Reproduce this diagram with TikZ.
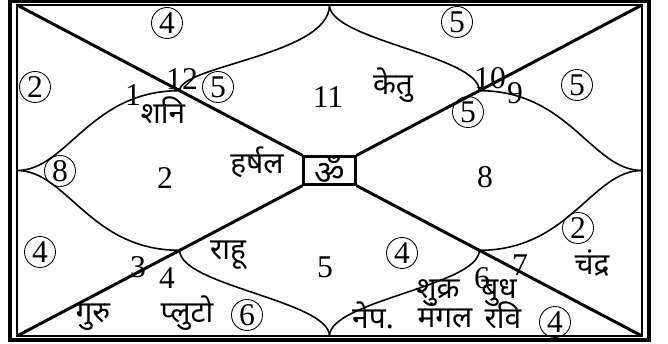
\documentclass[tikz,border=0pt]{standalone}
\usepackage{fontspec}
\setmainfont{Liberation Serif}
\newfontfamily\deva[Script=Devanagari]{Noto Sans}
\usetikzlibrary{calc}

\begin{document}
\begin{tikzpicture}[
    num/.style={font=\fontsize{18}{20}\selectfont, inner sep=0pt},
    cnum/.style={draw, circle, line width=0.5pt, inner sep=0pt, minimum size=0.62cm, font=\fontsize{18}{20}\selectfont},
    graha/.style={font=\deva\fontsize{17}{20}\selectfont, inner sep=0pt},
    diag/.style={line width=1.7pt},
    bhava/.style={line width=0.9pt},
]
  \useasboundingbox (0,0) rectangle (13.36,6.86);

  % double frame
  \draw[line width=2pt] (0.2,0.06) rectangle (12.98,6.84);
  \draw[line width=1.2pt] (0.34,0.14) rectangle (12.84,6.76);

  % corners and edge midpoints
  \coordinate (tl) at (0.34,6.76);
  \coordinate (tr) at (12.84,6.76);
  \coordinate (bl) at (0.34,0.14);
  \coordinate (br) at (12.84,0.14);
  \coordinate (tm) at (6.59,6.76);
  \coordinate (bm) at (6.59,0.14);
  \coordinate (lm) at (0.34,3.45);
  \coordinate (rm) at (12.84,3.45);

  % centre box
  \node[draw, line width=1.3pt, minimum width=1.04cm, minimum height=0.5cm, inner sep=0pt,
        font=\deva\fontsize{19}{19}\selectfont] (om) at (6.59,3.45) {ॐ};

  % diagonals
  \draw[diag] (tl) -- (om.north west);
  \draw[diag] (tr) -- (om.north east);
  \draw[diag] (bl) -- (om.south west);
  \draw[diag] (br) -- (om.south east);

  % where the curves meet the diagonals
  \coordinate (qtl) at ($(tl)!0.57!(om.north west)$);
  \coordinate (qtr) at ($(tr)!0.57!(om.north east)$);
  \coordinate (qbl) at ($(bl)!0.57!(om.south west)$);
  \coordinate (qbr) at ($(br)!0.57!(om.south east)$);

  % curved house lines
  \draw[bhava] (tm) .. controls +(0,-1) and +(0,0.5) .. (qtl);
  \draw[bhava] (tm) .. controls +(0,-0.7) and +(0,0.7) .. (qtr);
  \draw[bhava] (bm) .. controls +(0,0.7) and +(0,-0.7) .. (qbl);
  \draw[bhava] (bm) .. controls +(0,0.7) and +(0,-0.7) .. (qbr);
  \draw[bhava] (lm) .. controls +(1,0) and +(-1.8,0) .. (qtl);
  \draw[bhava] (lm) .. controls +(1,0) and +(-1.8,0) .. (qbl);
  \draw[bhava] (rm) .. controls +(-1,0) and +(1.8,0) .. (qtr);
  \draw[bhava] (rm) .. controls +(-1,0) and +(1.8,0) .. (qbr);

  % house numbers
  \node[num] (h1) at (2.66,4.96) {1};
  \node[num] (h12) at (3.64,5.28) {12};
  \node[num] (h11) at (6.56,4.92) {11};
  \node[num] (h10) at (9.8,5.3) {10};
  \node[num] (h9) at (10.3,5.0) {9};
  \node[num] (h2) at (3.3,3.3) {2};
  \node[num] (h8) at (9.7,3.32) {8};
  \node[num] (h3) at (2.76,1.52) {3};
  \node[num] (h4) at (3.34,1.3) {4};
  \node[num] (h5) at (6.5,1.52) {5};
  \node[num] (h6) at (9.64,1.3) {6};
  \node[num] (h7) at (10.4,1.56) {7};

  % circled numbers
  \node[cnum] (k12) at (3.34,6.4) {4};
  \node[cnum] (k10) at (9.14,6.42) {5};
  \node[cnum] (k1) at (0.70,5.12) {2};
  \node[cnum] (k12b) at (4.36,5.12) {5};
  \node[cnum] (k9) at (11.54,5.16) {5};
  \node[cnum] (k10b) at (9.36,4.62) {5};
  \node[cnum] (k2) at (1.2,3.44) {8};
  \node[cnum] (k3) at (0.8,1.82) {4};
  \node[cnum] (k4) at (4.94,0.56) {6};
  \node[cnum] (k5) at (8.04,1.8) {4};
  \node[cnum] (k8) at (11.56,2.3) {2};
  \node[cnum] (k6) at (11.1,0.42) {4};

  % planets
  \node[graha] (sani) at (3.26,4.66) {शनि};
  \node[graha] (ketu) at (7.86,5.16) {केतु};
  \node[graha] (harshal) at (5.14,3.62) {हर्षल};
  \node[graha] (rahu) at (4.56,1.76) {राहू};
  \node[graha] (guru) at (1.86,0.52) {गुरु};
  \node[graha] (pluto) at (3.74,0.6) {प्लुटो};
  \node[graha] (chandra) at (11.84,1.6) {चंद्र};
  \node[graha] (shukra) at (8.76,1.0) {शुक्र};
  \node[graha] (budh) at (9.98,1.0) {बुध};
  \node[graha] (nep) at (7.46,0.56) {नेप.};
  \node[graha] (mangal) at (8.9,0.56) {मंगल};
  \node[graha] (ravi) at (10.06,0.56) {रवि};
\end{tikzpicture}
\end{document}
